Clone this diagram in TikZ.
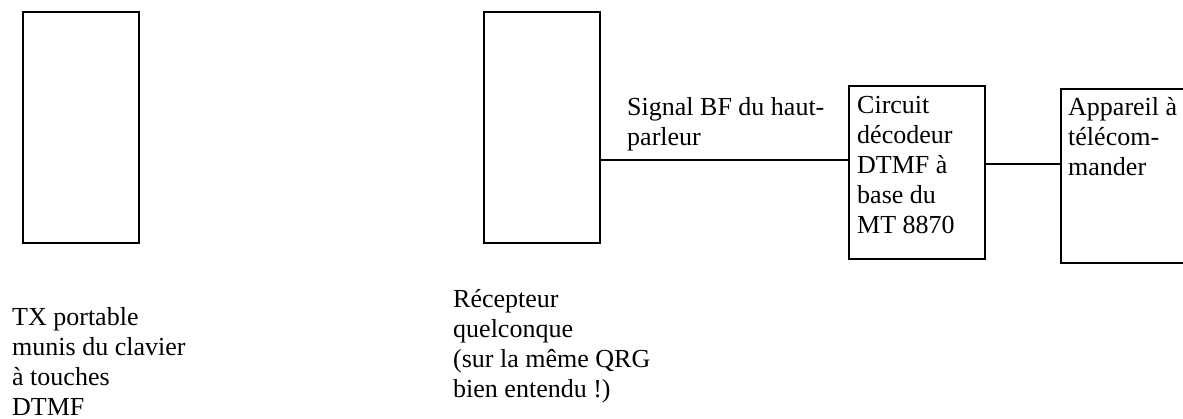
\documentclass[tikz,border=0pt]{standalone}
\usepackage{fontspec}
\setmainfont{Liberation Serif}
\begin{document}
\begin{tikzpicture}[x=1pt,y=-1pt,
  blk/.style={draw, line width=1.6pt, minimum width=0pt, minimum height=0pt, inner sep=0pt, anchor=north west},
  txt/.style={anchor=north west, inner sep=0pt, align=left, font=\fontsize{26}{30}\selectfont},
  wire/.style={line width=1.6pt}]
\useasboundingbox (0,0) rectangle (1183,419);
\clip (0,0) rectangle (1183,419);
% blocks
\node[blk, minimum width=116pt, minimum height=231pt] (tx) at (22,11) {};
\node[blk, minimum width=116pt, minimum height=231pt] (rx) at (483,11) {};
\node[blk, minimum width=136pt, minimum height=173pt] (dec) at (848,85) {};
\node[blk, minimum width=140pt, minimum height=174pt] (app) at (1060,88) {};
% texts (first baseline 20pt under the node top)
\node[txt] (txlbl) at (12,305) {\rule{0pt}{20pt}TX portable\\munis du clavier\\à touches\\DTMF};
\node[txt] (rxlbl) at (453,287) {\rule{0pt}{20pt}Récepteur\\quelconque\\(sur la même QRG\\bien entendu !)};
\node[txt] (siglbl) at (627,95) {\rule{0pt}{20pt}Signal BF du haut-\\parleur};
\node[txt] (declbl) at (857,93) {\rule{0pt}{20pt}Circuit\\décodeur\\DTMF à\\base du\\MT 8870};
\node[txt] (applbl) at (1068,95) {\rule{0pt}{20pt}Appareil à\\télécom-\\mander};
% connections
\coordinate (y1) at (0,160);
\coordinate (y2) at (0,164);
\draw[wire] (rx.east |- y1) -- (dec.west |- y1);
\draw[wire] (dec.east |- y2) -- (app.west |- y2);
\end{tikzpicture}
\end{document}
